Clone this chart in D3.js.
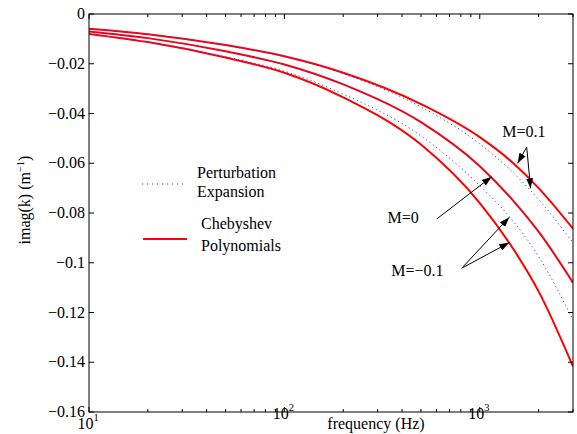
<!DOCTYPE html>
<html><head><meta charset="utf-8">
<script src="https://cdn.jsdelivr.net/npm/d3@7"></script>
<style>body{margin:0;background:#fff}text{font-family:"Liberation Serif","Times New Roman",serif;fill:#000}</style>
</head><body><svg id="c" width="577" height="434"></svg>
<script>
// ---- data ----
const freqs = [10, 20, 50, 100, 200, 500, 1000, 1500, 2000, 3000];
const chebMpos = [-0.0059, -0.0081, -0.0125, -0.0170, -0.0236, -0.0362, -0.0495, -0.0603, -0.0700, -0.0863];
const chebM0   = [-0.0070, -0.0097, -0.0150, -0.0203, -0.0283, -0.0435, -0.0612, -0.0755, -0.0875, -0.1080];
const chebMneg = [-0.0080, -0.0113, -0.0175, -0.0236, -0.0335, -0.0525, -0.0760, -0.0950, -0.1115, -0.1417];
const pertMpos = [-0.0059, -0.0081, -0.0126, -0.0172, -0.0240, -0.0374, -0.0522, -0.0642, -0.0745, -0.0920];
const pertM0   = [-0.0070, -0.0097, -0.0150, -0.0203, -0.0283, -0.0435, -0.0612, -0.0755, -0.0875, -0.1080];
const pertMneg = [-0.0080, -0.0112, -0.0172, -0.0230, -0.0322, -0.0490, -0.0690, -0.0838, -0.0975, -0.1230];
const yTicks = [0, -0.02, -0.04, -0.06, -0.08, -0.1, -0.12, -0.14, -0.16];
const yTickLabels = ["0", "\u22120.02", "\u22120.04", "\u22120.06", "\u22120.08", "\u22120.1", "\u22120.12", "\u22120.14", "\u22120.16"];
const xMajor = [10, 100, 1000];
const xMajorExp = ["1", "2", "3"];
const xMinor = [20,30,40,50,60,70,80,90,200,300,400,500,600,700,800,900,2000,3000];
// annotations in data coordinates: [freq, value]
const annotations = [
  {label: "M=0.1", at: [1683, -0.0495], tail: [1738, -0.0535], heads: [[1563, -0.0600], [1820, -0.0701]]},
  {label: "M=0", at: [405, -0.0840], tail: [602, -0.0824], heads: [[1151, -0.0654]]},
  {label: "M=\u22120.1", at: [480, -0.1053], tail: [808, -0.1022], heads: [[1416, -0.0817], [1416, -0.0919]]}
];

const svg = d3.select("#c");
const L = 89, R = 573, T = 14, B = 412;
const FS = 16;
const x = d3.scaleLog().domain([10, 3000]).range([L, R]);
const y = d3.scaleLinear().domain([-0.16, 0]).range([B, T]);

svg.append("defs").append("marker").attr("id", "ah")
  .attr("viewBox", "0 0 10 10").attr("refX", 10).attr("refY", 5)
  .attr("markerWidth", 10).attr("markerHeight", 10).attr("markerUnits", "userSpaceOnUse")
  .attr("orient", "auto")
  .append("path").attr("d", "M0,1.5 L10,5 L0,8.5 Z").attr("fill", "#000");

svg.append("clipPath").attr("id", "pc").append("rect")
  .attr("x", L).attr("y", T).attr("width", R - L).attr("height", B - T);

const line = d3.line().x((d, i) => x(freqs[i])).y(d => y(d)).curve(d3.curveMonotoneX);
const g = svg.append("g").attr("clip-path", "url(#pc)");
[chebMpos, chebM0, chebMneg].forEach(s => {
  g.append("path").attr("d", line(s)).attr("fill", "none").attr("stroke", "#ff0000").attr("stroke-width", 2);
});
[pertMpos, pertM0, pertMneg].forEach(s => {
  g.append("path").attr("d", line(s)).attr("fill", "none").attr("stroke", "#3a3aff")
    .attr("stroke-width", 1).attr("stroke-dasharray", "1.2,3");
});

// axes (MATLAB style: inward ticks, full box)
const ax = svg.append("g").attr("stroke", "#000").attr("stroke-width", 1);
ax.append("rect").attr("x", L).attr("y", T).attr("width", R - L).attr("height", B - T).attr("fill", "none");
xMajor.forEach(v => {
  ax.append("line").attr("x1", x(v)).attr("x2", x(v)).attr("y1", B).attr("y2", B - 5);
  ax.append("line").attr("x1", x(v)).attr("x2", x(v)).attr("y1", T).attr("y2", T + 5);
});
xMinor.forEach(v => {
  ax.append("line").attr("x1", x(v)).attr("x2", x(v)).attr("y1", B).attr("y2", B - 3);
  ax.append("line").attr("x1", x(v)).attr("x2", x(v)).attr("y1", T).attr("y2", T + 3);
});
yTicks.forEach(v => {
  ax.append("line").attr("x1", L).attr("x2", L + 5).attr("y1", y(v)).attr("y2", y(v));
  ax.append("line").attr("x1", R).attr("x2", R - 5).attr("y1", y(v)).attr("y2", y(v));
});
yTicks.forEach((v, i) => {
  svg.append("text").attr("x", L - 4).attr("y", y(v) + 5).attr("text-anchor", "end")
    .attr("font-size", FS).text(yTickLabels[i]);
});
xMajor.forEach((v, i) => {
  const t = svg.append("text").attr("x", x(v) - 1).attr("y", i === 0 ? 429 : 419)
    .attr("text-anchor", "middle").attr("font-size", FS);
  t.append("tspan").text("10");
  t.append("tspan").attr("font-size", 10.5).attr("dy", -8).text(xMajorExp[i]);
});

// axis labels
svg.append("text").attr("x", 376).attr("y", 429).attr("text-anchor", "middle").attr("font-size", FS).text("frequency (Hz)");
const yl = svg.append("text").attr("transform", "translate(30,200) rotate(-90)").attr("text-anchor", "middle").attr("font-size", FS);
yl.append("tspan").text("imag(k) (m");
yl.append("tspan").attr("font-size", 10.5).attr("dy", -6).text("\u22121");
yl.append("tspan").attr("dy", 6).text(")");

// annotations
annotations.forEach(a => {
  svg.append("text").attr("x", x(a.at[0])).attr("y", y(a.at[1])).attr("text-anchor", "middle")
    .attr("font-size", FS).text(a.label);
  a.heads.forEach(h => {
    svg.append("line").attr("x1", x(a.tail[0])).attr("y1", y(a.tail[1]))
      .attr("x2", x(h[0])).attr("y2", y(h[1])).attr("stroke", "#000").attr("stroke-width", 1)
      .attr("marker-end", "url(#ah)");
  });
});

// legend
const lg = svg.append("g");
lg.append("line").attr("x1", 142).attr("x2", 186).attr("y1", 184).attr("y2", 184)
  .attr("stroke", "#3a3aff").attr("stroke-width", 1).attr("stroke-dasharray", "1.2,3.8");
lg.append("text").attr("x", 197).attr("y", 178).attr("font-size", FS).text("Perturbation");
lg.append("text").attr("x", 197).attr("y", 197).attr("font-size", FS).text("Expansion");
lg.append("line").attr("x1", 143).attr("x2", 187).attr("y1", 239).attr("y2", 239)
  .attr("stroke", "#ff0000").attr("stroke-width", 2);
lg.append("text").attr("x", 201).attr("y", 229).attr("font-size", FS).text("Chebyshev");
lg.append("text").attr("x", 201).attr("y", 251).attr("font-size", FS).text("Polynomials");
</script></body></html>
